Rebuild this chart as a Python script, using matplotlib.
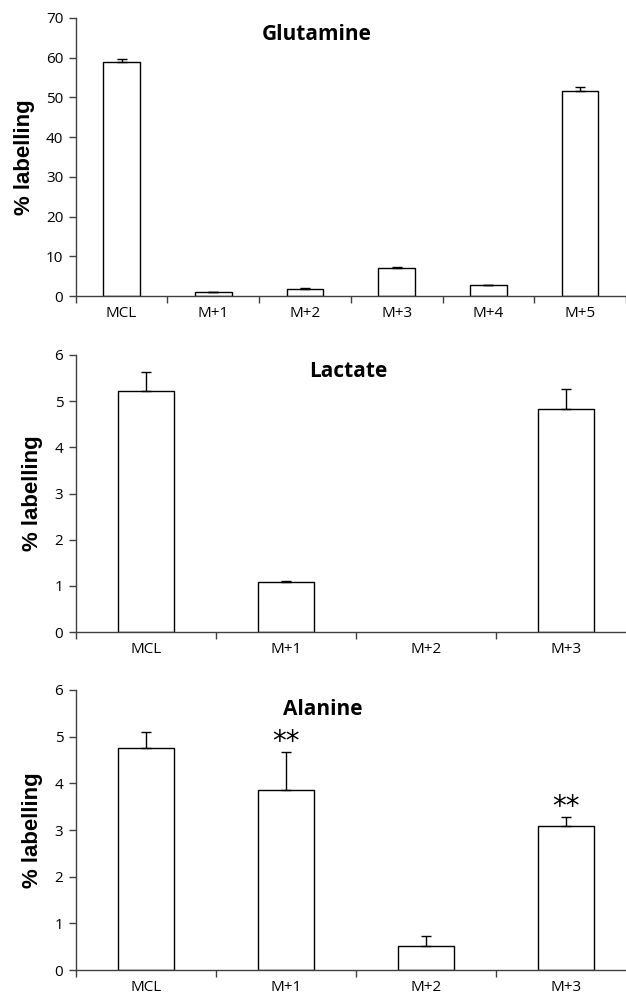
import numpy as np
import matplotlib.pyplot as plt

# data ------------------------------------------
glu_labels = ["MCL", "M+1", "M+2", "M+3", "M+4", "M+5"]
glu_values = [58.9, 1.0, 1.85, 7.15, 2.7, 51.6]
glu_err = [0.8, 0.1, 0.1, 0.25, 0.1, 1.0]

lac_labels = ["MCL", "M+1", "M+2", "M+3"]
lac_values = [5.21, 1.08, 0.0, 4.84]
lac_err = [0.42, 0.02, 0.0, 0.43]

ala_labels = ["MCL", "M+1", "M+2", "M+3"]
ala_values = [4.75, 3.86, 0.51, 3.09]
ala_err = [0.34, 0.81, 0.22, 0.19]
ala_stars = ["", "**", "", "**"]

AXIS_COLOR = "#404040"
TICK_FONT = "Open Sans"


def bar_panel(ax, labels, values, errs, ymax, ystep, title, title_x, title_y, stars=None):
    x = np.arange(len(labels))
    edges = ["black" if v > 0 else "none" for v in values]
    ax.bar(x, values, width=0.4, color="white", edgecolor=edges, linewidth=1.0, zorder=2)
    has_err = np.array(errs) > 0
    ax.errorbar(x[has_err], np.array(values)[has_err],
                yerr=[np.zeros(has_err.sum()), np.array(errs)[has_err]], fmt="none",
                ecolor="black", elinewidth=1.0, capsize=3.5, capthick=1.0, zorder=3)
    ax.set_xlim(-0.5, len(labels) - 0.5)
    ax.set_ylim(0, ymax)
    ax.set_yticks(np.arange(0, ymax + ystep / 2, ystep))
    ax.set_xticks(x)
    ax.set_xticklabels(labels, fontsize=11, family=TICK_FONT)
    ax.set_xticks(np.arange(len(labels) + 1) - 0.5, minor=True)
    ax.tick_params(axis="x", which="major", length=0, pad=7, colors="black")
    ax.tick_params(axis="x", which="minor", length=5, width=1.0, color=AXIS_COLOR, direction="out")
    ax.tick_params(axis="y", length=5, width=1.0, color=AXIS_COLOR, direction="out", labelsize=11, pad=4)
    for lab in ax.get_yticklabels():
        lab.set_family(TICK_FONT)
    for s in ["top", "right"]:
        ax.spines[s].set_visible(False)
    for s in ["left", "bottom"]:
        ax.spines[s].set_color(AXIS_COLOR)
        ax.spines[s].set_linewidth(1.0)
    ax.set_ylabel("% labelling", fontsize=16, fontweight="bold", family="Liberation Sans", labelpad=8)
    ax.text(title_x, title_y, title, transform=ax.transAxes, ha="center", va="center",
            fontsize=15, fontweight="bold", family=TICK_FONT)
    if stars:
        for xi, v, e, st in zip(x, values, errs, stars):
            if st:
                ax.annotate(st, (xi, v + e), xytext=(0, 7), textcoords="offset points",
                            ha="center", va="center", fontsize=20)


fig = plt.figure(figsize=(6.26, 9.97), dpi=100)
ax1 = fig.add_axes([0.121, 0.703, 0.879, 0.279])
ax2 = fig.add_axes([0.121, 0.366, 0.895, 0.278])
ax3 = fig.add_axes([0.121, 0.027, 0.895, 0.281])

bar_panel(ax1, glu_labels, glu_values, glu_err, 70, 10, "Glutamine", 0.437, 0.94)
bar_panel(ax2, lac_labels, lac_values, lac_err, 6, 1, "Lactate", 0.487, 0.94)
bar_panel(ax3, ala_labels, ala_values, ala_err, 6, 1, "Alanine", 0.440, 0.93, stars=ala_stars)

fig.savefig("out.png", dpi=100)
